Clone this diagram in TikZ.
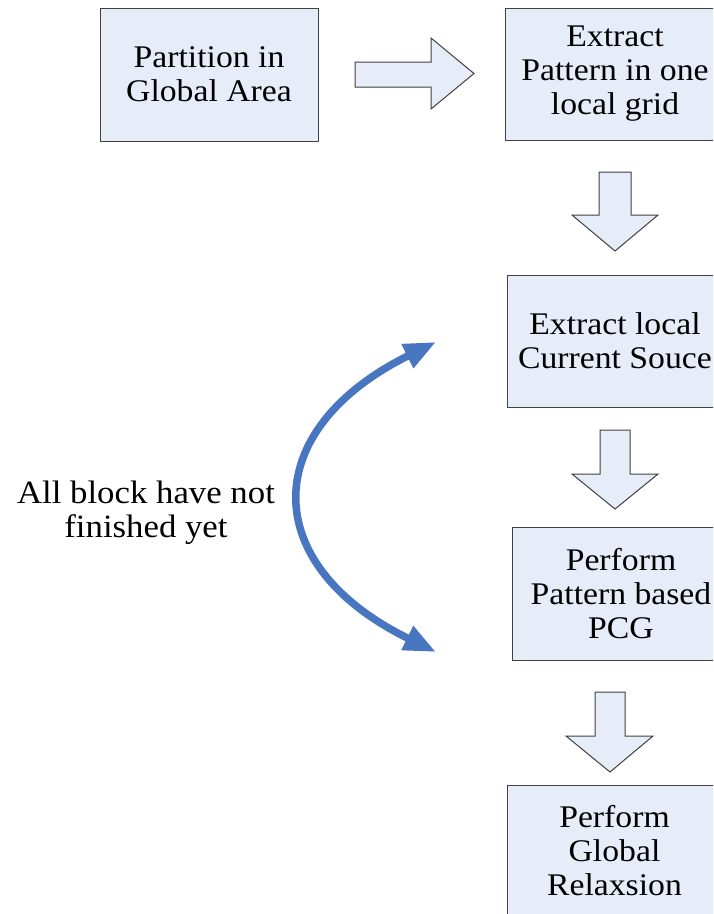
\documentclass[tikz,border=0pt]{standalone}
\usepackage{fontspec}
\setmainfont{Liberation Serif}[FakeStretch=1.07]
\usepackage{xcolor}
\usepackage{tikz}
\usetikzlibrary{arrows.meta}

\definecolor{boxfill}{RGB}{231,237,248}
\definecolor{loopblue}{RGB}{72,118,192}

\begin{document}
\begin{tikzpicture}[x=1pt,y=-1pt,
  stepbox/.style={draw=black!75, line width=1pt, fill=boxfill, align=center, inner sep=0pt,
    font=\fontsize{31.5}{34}\selectfont},
  blockarrow/.style={draw=black!75, line width=1pt, fill=boxfill}]

\clip (0,0) rectangle (713,914);

\node[stepbox, minimum width=218pt, minimum height=133pt] (partition) at (209,74.5) {Partition in\\Global Area};
\node[stepbox, minimum width=220pt, minimum height=132pt] (pattern) at (615,74) {Extract\\Pattern in one\\local grid};
\node[stepbox, minimum width=216pt, minimum height=132pt] (source) at (615,341) {Extract local\\Current Souce};
\node[stepbox, minimum width=218pt, minimum height=133pt] (pcg) at (621,593.5) {Perform\\Pattern based\\PCG};
\node[stepbox, minimum width=215pt, minimum height=132pt] (relax) at (614.5,851) {Perform\\Global\\Relaxsion};

% block arrows
\draw[blockarrow] (355,62)--(431,62)--(431,38)--(474,73.5)--(431,109)--(431,87)--(355,87)--cycle;
\draw[blockarrow] (599,172)--(631,172)--(631,215)--(658,215)--(615,251)--(572,215)--(599,215)--cycle;
\draw[blockarrow] (600,430)--(630,430)--(630,474)--(658,474)--(615,509)--(572,474)--(600,474)--cycle;
\draw[blockarrow] (595,692)--(625,692)--(625,736)--(653,736)--(610,772)--(566,736)--(595,736)--cycle;

% loop back
\node[align=center, font=\fontsize{32.5}{34}\selectfont] (unfinished) at (146,513) {All block have not\\finished yet};
\coordinate (looptop) at (436,342);
\coordinate (loopbot) at (436,652);
\draw[loopblue, line width=7.5pt, {Triangle[length=32pt,width=25pt]}-{Triangle[length=32pt,width=25pt]}]
  (loopbot) .. controls (258,565) and (258,430) .. (looptop);

\end{tikzpicture}
\end{document}
